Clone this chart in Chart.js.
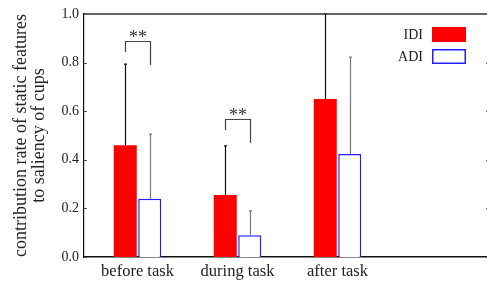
<!DOCTYPE html>
<html>
<head>
<meta charset="utf-8">
<script src="https://cdn.jsdelivr.net/npm/chart.js@4/dist/chart.umd.min.js"></script>
<style>
  html, body { margin: 0; padding: 0; background: #fff; overflow: hidden; }
  #wrap { width: 490px; height: 285px; }
</style>
</head>
<body>
<div id="wrap"><canvas id="cups-chart"></canvas></div>
<script>
const categories = ['before task', 'during task', 'after task'];
const idiValues = [0.46, 0.255, 0.65];
const adiValues = [0.24, 0.09, 0.424];
const idiUpper = [0.794, 0.457, 1.0];
const adiUpper = [0.506, 0.19, 0.823];
const yTicks = [0, 0.2, 0.4, 0.6, 0.8, 1.0];
// significance brackets: category, bracket top, left leg end, right leg end
const brackets = [
	{ cat: 0, top: 0.889, left: 0.844, right: 0.79, text: '**' },
	{ cat: 1, top: 0.568, left: 0.523, right: 0.469, text: '**' }
];

const serif = '"Liberation Serif", "DejaVu Serif", serif';
const ink = '#222';

const framePlugin = {
	id: 'frame',
	afterDatasetsDraw(chart) {
		const ctx = chart.ctx;
		const area = chart.chartArea;
		const y = chart.scales.y;
		ctx.save();
		// error bars
		const uppers = [idiUpper, adiUpper];
		const errColors = ['#111', '#777'];
		chart.data.datasets.forEach((ds, di) => {
			const meta = chart.getDatasetMeta(di);
			meta.data.forEach((bar, i) => {
				const x = Math.round(bar.x) + 0.5;
				const yTop = y.getPixelForValue(uppers[di][i]);
				ctx.strokeStyle = errColors[di];
				ctx.lineWidth = 1.2;
				ctx.beginPath();
				ctx.moveTo(x, bar.y);
				ctx.lineTo(x, yTop);
				ctx.moveTo(x - 1.5, yTop);
				ctx.lineTo(x + 1.5, yTop);
				ctx.stroke();
			});
		});
		// brackets
		brackets.forEach(b => {
			const xl = Math.round(chart.getDatasetMeta(0).data[b.cat].x) + 0.5;
			const xr = Math.round(chart.getDatasetMeta(1).data[b.cat].x) + 0.5;
			const yt = Math.round(y.getPixelForValue(b.top)) + 0.5;
			ctx.strokeStyle = '#444';
			ctx.lineWidth = 1.2;
			ctx.beginPath();
			ctx.moveTo(xl, y.getPixelForValue(b.left));
			ctx.lineTo(xl, yt);
			ctx.lineTo(xr, yt);
			ctx.lineTo(xr, y.getPixelForValue(b.right));
			ctx.stroke();
			ctx.fillStyle = '#333';
			ctx.font = '18px ' + serif;
			ctx.textAlign = 'center';
			ctx.textBaseline = 'alphabetic';
			ctx.fillText(b.text, (xl + xr) / 2, yt + 1);
		});
		// top and right frame lines, inner ticks
		ctx.strokeStyle = '#333';
		ctx.lineWidth = 1.5;
		ctx.beginPath();
		ctx.moveTo(area.left, area.top);
		ctx.lineTo(area.right, area.top);
		ctx.lineTo(area.right, area.bottom);
		ctx.stroke();
		ctx.lineWidth = 1;
		ctx.strokeStyle = '#555';
		ctx.beginPath();
		yTicks.forEach(v => {
			const py = Math.round(y.getPixelForValue(v)) + 0.5;
			ctx.moveTo(area.left, py);
			ctx.lineTo(area.left + 3, py);
			ctx.moveTo(area.right, py);
			ctx.lineTo(area.right - 3, py);
		});
		ctx.stroke();
		// legend, box to the right of the label
		chart.data.datasets.forEach((ds, di) => {
			const bx = area.right - 57;
			const by = area.top + 13 + di * 22;
			ctx.fillStyle = ds.backgroundColor;
			ctx.fillRect(bx, by, 34, 15);
			if (di === 1) {
				ctx.strokeStyle = ds.borderColor;
				ctx.lineWidth = 1.5;
				ctx.strokeRect(bx + 0.75, by + 0.75, 32.5, 13.5);
			}
			ctx.fillStyle = ink;
			ctx.font = '14px ' + serif;
			ctx.textAlign = 'right';
			ctx.textBaseline = 'middle';
			ctx.fillText(ds.label, bx - 9, by + 8.5);
		});
		ctx.restore();
	}
};

new Chart(document.getElementById('cups-chart'), {
	type: 'bar',
	data: {
		datasets: [{
			label: 'IDI',
			data: idiValues.map((v, i) => ({ x: i + 1, y: v })),
			backgroundColor: '#ff0000',
			borderWidth: 0
		}, {
			label: 'ADI',
			data: adiValues.map((v, i) => ({ x: i + 1, y: v })),
			backgroundColor: '#ffffff',
			borderColor: '#2020ff',
			borderWidth: 1.5
		}]
	},
	options: {
		responsive: true,
		maintainAspectRatio: false,
		animation: false,
		categoryPercentage: 0.49,
		barPercentage: 0.94,
		layout: { padding: { top: 14, right: 1, left: 0, bottom: 0 } },
		plugins: {
			legend: { display: false },
			tooltip: { enabled: false }
		},
		scales: {
			x: {
				type: 'linear',
				min: 0.465,
				max: 4.515,
				offset: false,
				grid: { display: false, drawTicks: false, offset: false },
				border: { display: true, color: '#111', width: 1.5 },
				afterBuildTicks: scale => {
					scale.ticks = categories.map((c, i) => ({ value: i + 1 }));
				},
				afterFit: scale => { scale.height = 28; },
				ticks: {
					color: ink,
					padding: 5,
					font: { family: serif, size: 16.5 },
					callback: v => categories[v - 1]
				}
			},
			y: {
				min: 0,
				max: 1,
				grid: { display: false, drawTicks: false },
				border: { display: true, color: '#111', width: 1.2 },
				afterBuildTicks: scale => {
					scale.ticks = yTicks.map(v => ({ value: v }));
				},
				afterFit: scale => { scale.width = 84; },
				ticks: {
					color: ink,
					padding: 5,
					font: { family: serif, size: 14 },
					callback: v => v.toFixed(1)
				},
				title: {
					display: true,
					text: ['contribution rate of static features', 'to saliency of cups'],
					color: ink,
					font: { family: serif, size: 18, lineHeight: 1.0 },
					padding: { top: 12, bottom: 0 }
				}
			}
		}
	},
	plugins: [framePlugin]
});
</script>
</body>
</html>
